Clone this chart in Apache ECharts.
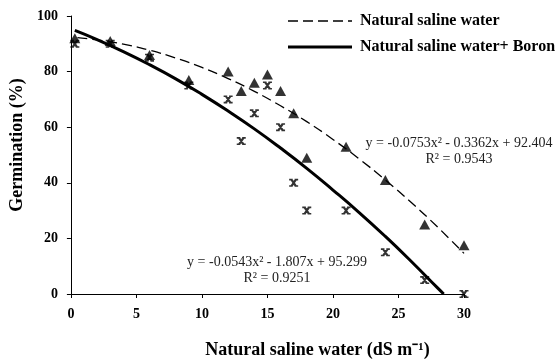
<!DOCTYPE html>
<html>
<head>
<meta charset="utf-8">
<script src="https://cdn.jsdelivr.net/npm/echarts@6/dist/echarts.min.js"></script>
<style>html,body{margin:0;padding:0;background:#fff;}#c{width:559px;height:364px;}</style>
</head>
<body>
<div id="c"></div>
<script>
// Salinity levels (dS m-1)
const salinity = [0.3, 3, 6, 9, 12, 13, 14, 15, 16, 17, 18, 21, 24, 27, 30];
// Germination (%) - natural saline water (triangles)
const germSaline = [92, 91, 86, 77, 80, 73, 76, 79, 73, 65, 49, 53, 41, 25, 17.5];
// Germination (%) - natural saline water + boron (crosses)
const germBoron = [90, 90, 85, 75, 70, 55, 65, 75, 60, 40, 30, 30, 15, 5, 0];

// Trend line readings (x, y)
const trendSalineX = [0.5, 2, 4, 6, 8, 10, 12, 14, 16, 18, 20, 22, 24, 26, 28, 30];
const trendSalineY = [92.2, 91.4, 89.9, 87.7, 84.9, 81.5, 77.5, 72.9, 67.7, 62.0, 55.6, 48.6, 41.0, 32.8, 24.0, 14.6];
const trendBoronX = [0.3, 2, 4, 6, 8, 10, 12, 14, 16, 18, 20, 22, 24, 26, 28, 28.45];
const trendBoronY = [94.8, 91.5, 87.2, 82.5, 77.4, 71.8, 65.8, 59.4, 52.5, 45.2, 37.4, 29.3, 20.7, 11.6, 2.1, 0];

const xTicks = [0, 5, 10, 15, 20, 25, 30];
const yTicks = [0, 20, 40, 60, 80, 100];

const seriesNames = ['Natural saline water', 'Natural saline water+ Boron'];
const eqSaline = ['y = -0.0753x² - 0.3362x + 92.404', 'R² = 0.9543'];
const eqBoron = ['y = -0.0543x² - 1.807x + 95.299', 'R² = 0.9251'];

const zip = (a, b) => a.map((v, i) => [v, b[i]]);
const crossPath = 'path://M0 0 L4 0 L4 2 L0 2 Z M6 0 L10 0 L10 2 L6 2 Z M0 8 L4 8 L4 10 L0 10 Z M6 8 L10 8 L10 10 L6 10 Z M0.8 0.5 L3.8 0.5 L9.2 9.5 L6.2 9.5 Z M6.2 0.5 L9.2 0.5 L3.8 9.5 L0.8 9.5 Z';
const FONT = '"Liberation Serif", "Times New Roman", serif';
const DASH = [10, 5];

const chart = echarts.init(document.getElementById('c'), null, {renderer: 'canvas'});
chart.setOption({
  animation: false,
  backgroundColor: '#fff',
  grid: {left: 70.5, right: 95, top: 16, bottom: 67, containLabel: false},
  xAxis: {
    type: 'value', min: 0, max: 30, interval: 5,
    name: 'Natural saline water (dS m⁻¹)', nameLocation: 'middle', nameGap: 47,
    nameTextStyle: {fontFamily: FONT, fontWeight: 'bold', fontSize: 18, color: '#000',
      padding: [0, 0, 0, 100]},
    axisLine: {lineStyle: {color: '#000', width: 1}},
    axisTick: {show: true, length: 4, lineStyle: {color: '#000'}},
    axisLabel: {fontFamily: FONT, fontWeight: 'bold', fontSize: 14, color: '#000', margin: 13},
    splitLine: {show: false}
  },
  yAxis: {
    type: 'value', min: 0, max: 100, interval: 20,
    name: 'Germination (%)', nameLocation: 'middle', nameGap: 40, nameRotate: 90,
    nameTextStyle: {fontFamily: FONT, fontWeight: 'bold', fontSize: 18, color: '#000',
      padding: [0, 0, 0, 20]},
    axisLine: {show: true, lineStyle: {color: '#000', width: 1}},
    axisTick: {show: true, length: 4, lineStyle: {color: '#000'}},
    axisLabel: {fontFamily: FONT, fontWeight: 'bold', fontSize: 14, color: '#000', margin: 13},
    splitLine: {show: false}
  },
  series: [
    {
      name: seriesNames[0], type: 'line', data: zip(trendSalineX, trendSalineY),
      smooth: true, showSymbol: false, symbol: 'none',
      lineStyle: {color: '#000', width: 1.3, type: DASH}, itemStyle: {color: '#000'},
      z: 2
    },
    {
      name: seriesNames[1], type: 'line', data: zip(trendBoronX, trendBoronY),
      smooth: true, showSymbol: false, symbol: 'none',
      lineStyle: {color: '#000', width: 3}, itemStyle: {color: '#000'},
      z: 2
    },
    {
      name: 'saline points', type: 'scatter', data: zip(salinity, germSaline),
      symbol: 'triangle', symbolSize: [11, 10], itemStyle: {color: '#000'}, z: 3
    },
    {
      name: 'boron points', type: 'scatter', data: zip(salinity, germBoron),
      symbol: crossPath, symbolSize: [9, 8], itemStyle: {color: '#000'}, z: 3
    }
  ],
  graphic: [
    {type: 'line', shape: {x1: 288, y1: 21, x2: 352, y2: 21}, style: {stroke: '#000', lineWidth: 1.3, lineDash: DASH}},
    {type: 'line', shape: {x1: 288, y1: 47, x2: 352, y2: 47}, style: {stroke: '#000', lineWidth: 3}},
    {type: 'text', x: 360, y: 21, style: {text: seriesNames[0], verticalAlign: 'middle', font: 'bold 16px ' + FONT, fill: '#000'}},
    {type: 'text', x: 360, y: 47, style: {text: seriesNames[1], verticalAlign: 'middle', font: 'bold 16px ' + FONT, fill: '#000'}},
    {type: 'text', x: 459, y: 143, style: {text: eqSaline[0], align: 'center', verticalAlign: 'middle', font: '14px ' + FONT, fill: '#222'}},
    {type: 'text', x: 459, y: 159, style: {text: eqSaline[1], align: 'center', verticalAlign: 'middle', font: '14px ' + FONT, fill: '#222'}},
    {type: 'text', x: 277, y: 262, style: {text: eqBoron[0], align: 'center', verticalAlign: 'middle', font: '14px ' + FONT, fill: '#222'}},
    {type: 'text', x: 277, y: 278, style: {text: eqBoron[1], align: 'center', verticalAlign: 'middle', font: '14px ' + FONT, fill: '#222'}}
  ]
});
</script>
</body>
</html>
